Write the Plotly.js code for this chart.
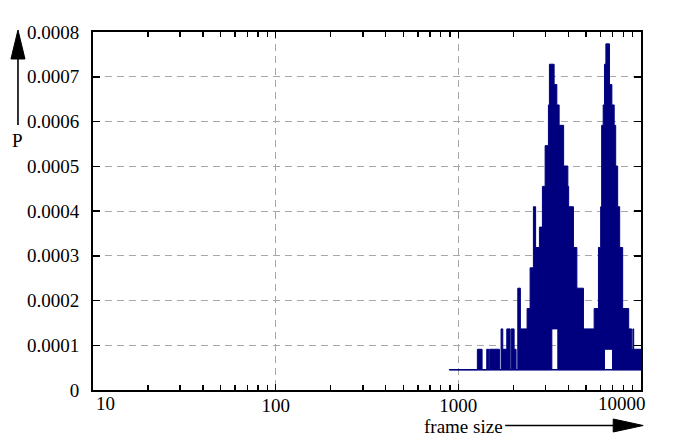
<!DOCTYPE html>
<html>
<head>
<meta charset="utf-8">
<script src="https://cdn.plot.ly/plotly-3.0.1.min.js"></script>
<style>
  body { margin: 0; background: #fff; }
  #chart { width: 693px; height: 445px; }
</style>
</head>
<body>
<div id="chart"></div>
<script>
// frame size histogram (P per frame size)
// upper edge of the trace
var upperSize = [893, 1271, 1349, 1431, 1470, 1485, 1678, 1714, 1751, 1842, 1920, 1945, 2020, 2071,
  2116, 2186, 2379, 2471, 2576, 2649, 2779, 2886, 2987, 3113, 3152, 3345, 3461, 3563, 3771,
  3977, 4017, 4267, 4455, 4842, 5540, 5849, 6015, 6091, 6208, 6310, 6423, 6721, 6927, 7133,
  7268, 7453, 7643, 7937, 8563, 8893, 9029, 9120, 10500];
var upperP = [0.0000455, 0.000091, 0.0000455, 0.000091, 0.0000455, 0.000091, 0.0000455, 0.0001365,
  0.000091, 0.0001365, 0.0000455, 0.0001365, 0.000091, 0.0000455,
  0.0002275, 0.0001365, 0.000182, 0.000273, 0.0004095, 0.0003185, 0.000364, 0.000455, 0.000546,
  0.000637, 0.000728, 0.0006825, 0.000637, 0.0005915, 0.0005005,
  0.000455, 0.0004095, 0.0003185, 0.0002275, 0.0001365, 0.000182, 0.0003185, 0.0004095,
  0.0005915, 0.000637, 0.000728, 0.0007735, 0.0006825, 0.000637, 0.0005915,
  0.0005005, 0.0004095, 0.0003185, 0.000182, 0.0001365, 0.000091, 0.0001365, 0.000091, 0.000091];

// lower edge of the trace (raised in the middle of both peaks)
var lowerSize = [893, 3250, 3505, 6310, 6980, 10500];
var lowerP = [0.0000455, 0.0001365, 0.0000455, 0.000091, 0.0000455, 0.0000455];

// flat floor line
var baseSize = [893, 10500];
var baseP = [0.0000455, 0.0000455];

// x tick labels; the two end ones are pulled inside the frame like in the original
var xTicks = [10, 100, 1000, 10000];
var xTickText = ['', '100', '1000', ''];

var navy = '#00007f';

var base = {
  x: baseSize, y: baseP, mode: 'lines', type: 'scatter',
  line: {color: navy, width: 1.5}, hoverinfo: 'skip'
};
var lower = {
  x: lowerSize, y: lowerP, mode: 'lines', type: 'scatter',
  line: {color: navy, width: 1, shape: 'hv'}
};
var upper = {
  x: upperSize, y: upperP, mode: 'lines', type: 'scatter',
  line: {color: navy, width: 1, shape: 'hv'},
  fill: 'tonexty', fillcolor: navy
};

var serif = 'Liberation Serif, Times New Roman, serif';
var gridGrey = '#a8a8a8';

var layout = {
  width: 693, height: 445,
  margin: {l: 93, r: 52, t: 32, b: 55},
  paper_bgcolor: '#fff', plot_bgcolor: '#fff',
  showlegend: false,
  font: {family: serif, size: 19, color: '#000'},
  xaxis: {
    type: 'log', range: [1, 4],
    tickvals: xTicks, ticktext: xTickText,
    ticks: 'inside', ticklen: 6, tickwidth: 1.5, tickcolor: '#000',
    ticklabelstandoff: -3,
    minor: {
      tickvals: [20, 30, 40, 50, 60, 70, 80, 90, 200, 300, 400, 500, 600, 700, 800, 900,
        2000, 3000, 4000, 5000, 6000, 7000, 8000, 9000],
      ticks: 'inside', ticklen: 5, tickwidth: 1.5, tickcolor: '#000', showgrid: false
    },
    showline: true, linecolor: '#000', linewidth: 2, mirror: 'allticks',
    showgrid: true, gridcolor: gridGrey, gridwidth: 1, griddash: '7px,5px',
    zeroline: false
  },
  yaxis: {
    range: [0, 0.0008], dtick: 0.0001, tickformat: '.4~f',
    ticks: 'inside', ticklen: 7, tickwidth: 1.5, tickcolor: '#000',
    ticklabelstandoff: 8,
    showline: true, linecolor: '#000', linewidth: 2, mirror: 'allticks',
    showgrid: true, gridcolor: gridGrey, gridwidth: 1, griddash: '7px,5px',
    zeroline: false
  },
  annotations: [
    {text: 'P', xref: 'paper', yref: 'paper', x: -0.1369, y: 0.6983,
      xanchor: 'center', yanchor: 'middle', showarrow: false, font: {family: serif, size: 19}},
    {text: 'frame size', xref: 'paper', yref: 'paper', x: 0.6754, y: -0.1020,
      xanchor: 'center', yanchor: 'middle', showarrow: false, font: {family: serif, size: 19}},
    {text: '10', xref: 'paper', yref: 'paper', x: 0.002, y: -0.0377,
      xanchor: 'left', yanchor: 'middle', showarrow: false, font: {family: serif, size: 19}},
    {text: '10000', xref: 'paper', yref: 'paper', x: 1.013, y: -0.0377,
      xanchor: 'right', yanchor: 'middle', showarrow: false, font: {family: serif, size: 19}}
  ],
  shapes: [
    // up arrow for P
    {type: 'line', xref: 'paper', yref: 'paper', x0: -0.1369, x1: -0.1369, y0: 0.7402, y1: 0.93,
      line: {color: '#000', width: 1.6}},
    {type: 'path', xref: 'paper', yref: 'paper',
      path: 'M -0.1497,0.9246 L -0.1369,1.0056 L -0.1241,0.9246 Z',
      fillcolor: '#000', line: {color: '#000', width: 1}},
    // right arrow for frame size
    {type: 'line', xref: 'paper', yref: 'paper', x0: 0.7521, x1: 0.955, y0: -0.0992, y1: -0.0992,
      line: {color: '#000', width: 1.6}},
    {type: 'path', xref: 'paper', yref: 'paper',
      path: 'M 0.9493,-0.0810 L 1.0040,-0.0992 L 0.9493,-0.1173 Z',
      fillcolor: '#000', line: {color: '#000', width: 1}}
  ]
};

Plotly.newPlot('chart', [base, lower, upper], layout, {staticPlot: true, displayModeBar: false});
</script>
</body>
</html>
